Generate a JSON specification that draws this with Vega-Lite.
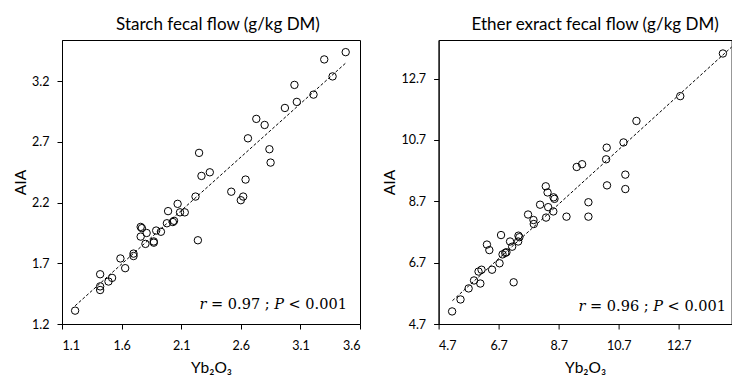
{
  "$schema": "https://vega.github.io/schema/vega-lite/v6.json",
  "background": "white",
  "padding": {"left": 13, "top": 15, "right": 0, "bottom": 0},
  "bounds": "flush",
  "spacing": 78.6,
  "config": {
    "font": "Lato",
    "view": {"stroke": "black", "strokeWidth": 1},
    "axis": {
      "grid": false,
      "domainColor": "black",
      "tickColor": "black",
      "tickSize": 5,
      "labelColor": "black",
      "labelFontSize": 12.5,
      "labelFont": "Lato",
      "titleFont": "Lato",
      "titleFontSize": 15.5,
      "titleFontWeight": "normal",
      "titleColor": "black"
    },
    "axisY": {"labelPadding": 8, "titlePadding": 3},
    "axisX": {"labelPadding": 10, "titlePadding": 9},
    "title": {"font": "Lato", "fontSize": 17, "fontWeight": "normal", "color": "black", "offset": 6}
  },
  "datasets": {
    "starch": [
      {"yb": 1.21, "aia": 1.31}, {"yb": 1.42, "aia": 1.61}, {"yb": 1.42, "aia": 1.51}, {"yb": 1.42, "aia": 1.48},
      {"yb": 1.49, "aia": 1.55}, {"yb": 1.52, "aia": 1.58}, {"yb": 1.59, "aia": 1.74}, {"yb": 1.63, "aia": 1.66},
      {"yb": 1.70, "aia": 1.76}, {"yb": 1.70, "aia": 1.78}, {"yb": 1.76, "aia": 2.00}, {"yb": 1.77, "aia": 1.99},
      {"yb": 1.76, "aia": 1.92}, {"yb": 1.80, "aia": 1.86}, {"yb": 1.81, "aia": 1.95}, {"yb": 1.87, "aia": 1.87},
      {"yb": 1.87, "aia": 1.88}, {"yb": 1.89, "aia": 1.97}, {"yb": 1.93, "aia": 1.96}, {"yb": 1.98, "aia": 2.03},
      {"yb": 1.99, "aia": 2.13}, {"yb": 2.03, "aia": 2.04}, {"yb": 2.04, "aia": 2.05}, {"yb": 2.07, "aia": 2.19},
      {"yb": 2.09, "aia": 2.12}, {"yb": 2.13, "aia": 2.12}, {"yb": 2.22, "aia": 2.25}, {"yb": 2.24, "aia": 1.89},
      {"yb": 2.27, "aia": 2.42}, {"yb": 2.34, "aia": 2.45}, {"yb": 2.25, "aia": 2.61}, {"yb": 2.52, "aia": 2.29},
      {"yb": 2.60, "aia": 2.22}, {"yb": 2.62, "aia": 2.25}, {"yb": 2.64, "aia": 2.39}, {"yb": 2.66, "aia": 2.73},
      {"yb": 2.73, "aia": 2.89}, {"yb": 2.80, "aia": 2.84}, {"yb": 2.84, "aia": 2.64}, {"yb": 2.85, "aia": 2.53},
      {"yb": 2.97, "aia": 2.98}, {"yb": 3.05, "aia": 3.17}, {"yb": 3.07, "aia": 3.03}, {"yb": 3.21, "aia": 3.09},
      {"yb": 3.30, "aia": 3.38}, {"yb": 3.37, "aia": 3.24}, {"yb": 3.48, "aia": 3.44}
    ],
    "starchTrend": [{"yb": 1.21, "aia": 1.35}, {"yb": 3.48, "aia": 3.35}],
    "starchNote": [{"note": "𝑟 = 0.97 ; 𝑃 < 0.001"}],
    "ether": [
      {"yb": 5.15, "aia": 5.11}, {"yb": 5.43, "aia": 5.50}, {"yb": 5.70, "aia": 5.86}, {"yb": 5.88, "aia": 6.12},
      {"yb": 6.09, "aia": 6.02}, {"yb": 6.03, "aia": 6.41}, {"yb": 6.13, "aia": 6.47}, {"yb": 6.48, "aia": 6.47},
      {"yb": 6.73, "aia": 6.68}, {"yb": 6.31, "aia": 7.29}, {"yb": 6.39, "aia": 7.11}, {"yb": 6.78, "aia": 7.60},
      {"yb": 6.83, "aia": 6.97}, {"yb": 6.92, "aia": 7.02}, {"yb": 6.96, "aia": 7.04}, {"yb": 7.08, "aia": 7.39},
      {"yb": 7.15, "aia": 7.22}, {"yb": 7.35, "aia": 7.39}, {"yb": 7.39, "aia": 7.53}, {"yb": 7.36, "aia": 7.58},
      {"yb": 7.20, "aia": 6.06}, {"yb": 7.68, "aia": 8.27}, {"yb": 7.86, "aia": 8.09}, {"yb": 7.87, "aia": 7.96},
      {"yb": 8.08, "aia": 8.59}, {"yb": 8.28, "aia": 8.17}, {"yb": 8.35, "aia": 8.51}, {"yb": 8.52, "aia": 8.37},
      {"yb": 8.53, "aia": 8.83}, {"yb": 8.56, "aia": 8.78}, {"yb": 8.27, "aia": 9.19}, {"yb": 8.33, "aia": 8.99},
      {"yb": 8.96, "aia": 8.20}, {"yb": 9.69, "aia": 8.67}, {"yb": 9.69, "aia": 8.20}, {"yb": 14.17, "aia": 13.52},
      {"yb": 12.75, "aia": 12.13}, {"yb": 11.29, "aia": 11.32}, {"yb": 10.86, "aia": 10.62}, {"yb": 10.30, "aia": 10.45},
      {"yb": 10.28, "aia": 10.07}, {"yb": 9.30, "aia": 9.82}, {"yb": 9.48, "aia": 9.91}, {"yb": 10.92, "aia": 9.57},
      {"yb": 10.31, "aia": 9.22}, {"yb": 10.92, "aia": 9.10}
    ],
    "etherTrend": [{"yb": 5.16, "aia": 5.46}, {"yb": 14.46, "aia": 13.73}],
    "etherNote": [{"note": "𝑟 = 0.96 ; 𝑃 < 0.001"}]
  },
  "hconcat": [
    {
      "width": 298,
      "height": 284,
      "title": {"text": "Starch fecal flow (g/kg DM)", "dx": 7},
      "layer": [
        {
          "data": {"name": "starchTrend"},
          "mark": {"type": "line", "color": "black", "strokeWidth": 1, "strokeDash": [3, 2]},
          "encoding": {
            "x": {"field": "yb", "type": "quantitative"},
            "y": {"field": "aia", "type": "quantitative"}
          }
        },
        {
          "data": {"name": "starch"},
          "mark": {"type": "point", "shape": "circle", "filled": false, "color": "black", "size": 55, "strokeWidth": 1, "opacity": 1},
          "encoding": {
            "x": {"field": "yb", "type": "quantitative", "title": "Yb₂O₃",
                  "scale": {"domain": [1.1, 3.6], "nice": false, "zero": false},
                  "axis": {"values": [1.1, 1.6, 2.1, 2.6, 3.1, 3.6], "format": ".1f"}},
            "y": {"field": "aia", "type": "quantitative", "title": "AIA",
                  "scale": {"domain": [1.2, 3.54], "nice": false, "zero": false},
                  "axis": {"values": [1.2, 1.7, 2.2, 2.7, 3.2], "format": ".1f"}}
          }
        },
        {
          "data": {"name": "starchNote"},
          "mark": {"type": "text", "align": "right", "baseline": "alphabetic", "font": "DejaVu Serif", "fontSize": 14.5, "color": "black"},
          "encoding": {"x": {"datum": 3.49}, "y": {"datum": 1.32}, "text": {"field": "note"}}
        }
      ]
    },
    {
      "width": 293,
      "height": 284,
      "title": {"text": "Ether exract fecal flow (g/kg DM)", "dx": 10},
      "layer": [
        {
          "data": {"name": "etherTrend"},
          "mark": {"type": "line", "color": "black", "strokeWidth": 1, "strokeDash": [3, 2]},
          "encoding": {
            "x": {"field": "yb", "type": "quantitative"},
            "y": {"field": "aia", "type": "quantitative"}
          }
        },
        {
          "data": {"name": "ether"},
          "mark": {"type": "point", "shape": "circle", "filled": false, "color": "black", "size": 55, "strokeWidth": 1, "opacity": 1},
          "encoding": {
            "x": {"field": "yb", "type": "quantitative", "title": "Yb₂O₃",
                  "scale": {"domain": [4.7, 14.46], "nice": false, "zero": false},
                  "axis": {"values": [4.7, 6.7, 8.7, 10.7, 12.7], "format": ".1f"}},
            "y": {"field": "aia", "type": "quantitative", "title": "AIA",
                  "scale": {"domain": [4.7, 13.96], "nice": false, "zero": false},
                  "axis": {"values": [4.7, 6.7, 8.7, 10.7, 12.7], "format": ".1f"}}
          }
        },
        {
          "data": {"name": "etherNote"},
          "mark": {"type": "text", "align": "right", "baseline": "alphabetic", "font": "DejaVu Serif", "fontSize": 14.5, "color": "black"},
          "encoding": {"x": {"datum": 14.27}, "y": {"datum": 5.14}, "text": {"field": "note"}}
        }
      ]
    }
  ]
}
